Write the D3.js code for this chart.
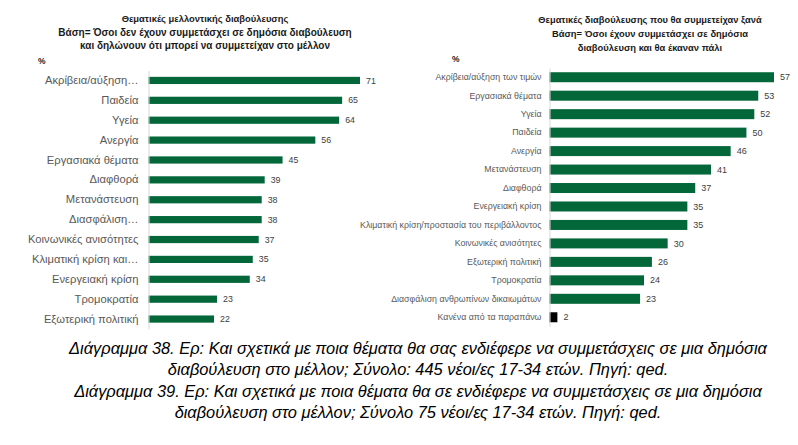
<!DOCTYPE html>
<html><head><meta charset="utf-8">
<script src="https://cdn.jsdelivr.net/npm/d3@7"></script>
<style>
body{margin:0;background:#fff;}
svg{display:block;}
</style></head>
<body>
<svg id="c" width="798" height="445"></svg>
<script>
const leftCategories = ["Ακρίβεια/αύξηση…","Παιδεία","Υγεία","Ανεργία","Εργασιακά θέματα","Διαφθορά","Μετανάστευση","Διασφάλιση…","Κοινωνικές ανισότητες","Κλιματική κρίση και…","Ενεργειακή κρίση","Τρομοκρατία","Εξωτερική πολιτική"];
const leftValues = [71,65,64,56,45,39,38,38,37,35,34,23,22];
const leftTitle = ["Θεματικές μελλοντικής διαβούλευσης","Βάση= Όσοι δεν έχουν συμμετάσχει σε δημόσια διαβούλευση","και δηλώνουν ότι μπορεί να συμμετείχαν στο μέλλον"];

const rightCategories = ["Ακρίβεια/αύξηση των τιμών","Εργασιακά θέματα","Υγεία","Παιδεία","Ανεργία","Μετανάστευση","Διαφθορά","Ενεργειακή κρίση","Κλιματική κρίση/προστασία του περιβάλλοντος","Κοινωνικές ανισότητες","Εξωτερική πολιτική","Τρομοκρατία","Διασφάλιση ανθρωπίνων δικαιωμάτων","Κανένα από τα παραπάνω"];
const rightValues = [57,53,52,50,46,41,37,35,35,30,26,24,23,2];
const rightTitle = ["Θεματικές διαβούλευσης που θα συμμετείχαν ξανά","Βάση= Όσοι έχουν συμμετάσχει σε δημόσια","διαβούλευση και θα έκαναν πάλι"];

const captions = ["Διάγραμμα 38. Ερ: Και σχετικά με ποια θέματα θα σας ενδιέφερε να συμμετάσχεις σε μια δημόσια",
"διαβούλευση στο μέλλον; Σύνολο: 445 νέοι/ες 17-34 ετών. Πηγή: qed.",
"Διάγραμμα 39. Ερ: Και σχετικά με ποια θέματα θα σε ενδιέφερε να συμμετάσχεις σε μια δημόσια",
"διαβούλευση στο μέλλον; Σύνολο 75 νέοι/ες 17-34 ετών. Πηγή: qed."];

const GREEN = "#03673a";
const svg = d3.select("#c");
const FONT = "'Liberation Sans', Arial, sans-serif";

function chart(o){
  const g = svg.append("g");
  const x = d3.scaleLinear().domain([0, o.max]).range([o.x0, o.x1]);
  const y = d3.scaleBand().domain(o.cats).range([o.y0, o.y1]).paddingInner(o.pad).paddingOuter(o.pad/2);
  o.title.forEach((t,i)=>{
    g.append("text").attr("x", o.tx).attr("y", o.ty + i*o.tdy)
     .attr("text-anchor","middle").attr("font-family",FONT).attr("font-weight","bold")
     .attr("font-size", o.tfs[i]).attr("fill","#1a1a1a").text(t);
  });
  g.append("text").attr("x", o.px).attr("y", o.py).attr("font-family",FONT).attr("font-weight","bold")
   .attr("font-size", 8.5).attr("fill","#1a1a1a").text("%");
  g.selectAll("rect.b").data(o.vals).join("rect")
   .attr("x", x(0)).attr("y",(d,i)=>y(o.cats[i]) + (y.bandwidth()-o.bh)/2)
   .attr("width", d=>x(d)-x(0)).attr("height", o.bh)
   .attr("fill",(d,i)=> (o.black && i===o.vals.length-1) ? "#000" : GREEN);
  const yAxis = d3.axisLeft(y).tickSize(0).tickPadding(o.lpad);
  const ax = g.append("g").attr("transform",`translate(${x(0)},0)`).call(yAxis);
  ax.select(".domain").attr("stroke","#d9d9d9").attr("stroke-width",1);
  ax.selectAll("text").attr("font-family",FONT).attr("font-size",o.lfs).attr("fill","#595959");
  g.selectAll("text.v").data(o.vals).join("text")
   .attr("x", d=>x(d)+o.vpad).attr("y",(d,i)=>y(o.cats[i])+y.bandwidth()/2)
   .attr("dy","0.35em").attr("font-family",FONT).attr("font-size",o.vfs).attr("fill","#404040")
   .text(d=>d);
}

chart({cats:leftCategories, vals:leftValues, title:leftTitle, max:71, x0:148.5, x1:360,
  y0:70.5, y1:329, pad:0.62, bh:7.2, tx:205, ty:22, tdy:13.5, tfs:[9.4,10,10], px:38, py:64,
  lfs:11.2, lpad:10, vfs:8.8, vpad:6});
chart({cats:rightCategories, vals:rightValues, title:rightTitle, max:57, x0:549.5, x1:774,
  y0:68, y1:326.5, pad:0.44, bh:10, tx:650, ty:23, tdy:14, tfs:[9.3,9.4,9.4], px:452, py:62,
  lfs:8.8, lpad:8, vfs:9, vpad:6, black:true});

captions.forEach((t,i)=>{
  svg.append("text").attr("x",418).attr("y",354 + i*21.3).attr("text-anchor","middle")
   .attr("font-family","'Liberation Sans Narrow', 'Arial Narrow', 'Liberation Sans', sans-serif")
   .attr("font-style","italic").attr("font-size",16.4).attr("fill","#000").text(t);
});
</script>
</body></html>
